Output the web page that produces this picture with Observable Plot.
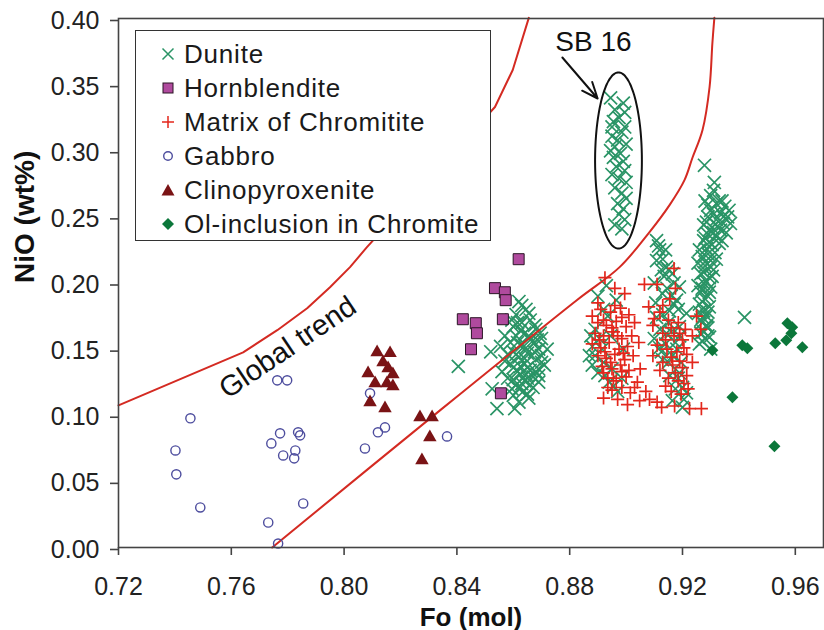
<!DOCTYPE html>
<html><head><meta charset="utf-8">
<script src="https://cdn.jsdelivr.net/npm/d3@7"></script>
<script src="https://cdn.jsdelivr.net/npm/@observablehq/plot@0.6"></script>
<style>
body{margin:0;background:#fff;overflow:hidden}
#wrap{position:relative;width:824px;height:630px;font-family:"Liberation Sans",Arial,sans-serif}
#legend{position:absolute;left:135px;top:30px;width:356px;height:211px;border:1.6px solid #333;background:#fff;padding-top:6px;box-sizing:border-box}
.row{height:34px;display:flex;align-items:center;font-size:26px;letter-spacing:0.8px;color:#1a1a1a}
.row svg{width:24px;height:24px;margin-left:20px;margin-right:4px;flex:none}
</style></head><body><div id="wrap"></div>
<script>
// ---------- data (Fo mol, NiO wt%) ----------
const xTicks = [0.72, 0.76, 0.80, 0.84, 0.88, 0.92, 0.96];
const yTicks = [0, 0.05, 0.10, 0.15, 0.20, 0.25, 0.30, 0.35, 0.40];
const seriesNames = ["Dunite","Hornblendite","Matrix of Chromitite","Gabbro","Clinopyroxenite","Ol-inclusion in Chromite"];

const dunite = [
 // SB 16
 [0.8945,0.340],[0.8990,0.336],[0.8960,0.331],[0.8995,0.329],[0.8975,0.325],[0.8955,0.322],[0.8995,0.318],[0.8985,0.314],[0.8950,0.311],[0.8970,0.308],[0.9000,0.305],[0.8960,0.303],[0.8945,0.300],[0.8980,0.298],[0.8955,0.295],[0.8990,0.292],[0.8965,0.288],[0.8995,0.285],[0.8950,0.282],[0.8975,0.279],[0.9000,0.276],[0.8960,0.272],[0.8985,0.268],[0.9000,0.264],[0.8970,0.260],[0.8990,0.256],[0.8975,0.252],[0.8995,0.248],[0.8960,0.244],[0.8985,0.241],[0.8950,0.318],
 // cluster near 0.86
 [0.8405,0.137],[0.8520,0.148],[0.8525,0.120],[0.8542,0.105],[0.8605,0.105],[0.8595,0.120],[0.8620,0.186],[0.8645,0.180],[0.8610,0.176],[0.8660,0.172],[0.8630,0.170],[0.8600,0.167],[0.8680,0.165],[0.8640,0.162],[0.8610,0.160],[0.8700,0.158],[0.8660,0.157],[0.8590,0.155],[0.8630,0.153],[0.8690,0.150],[0.8600,0.148],[0.8650,0.147],[0.8620,0.144],[0.8680,0.142],[0.8570,0.141],[0.8640,0.139],[0.8710,0.138],[0.8600,0.136],[0.8660,0.134],[0.8625,0.131],[0.8690,0.130],[0.8580,0.128],[0.8640,0.126],[0.8610,0.123],[0.8670,0.121],[0.8635,0.118],[0.8600,0.115],[0.8655,0.113],[0.8620,0.110],[0.8680,0.133],[0.8555,0.152],[0.8560,0.133],[0.8700,0.145],[0.8615,0.170],[0.8675,0.155],[0.8650,0.128],
 [0.8630,0.183],[0.8655,0.177],[0.8595,0.172],[0.8675,0.168],[0.8625,0.164],[0.8655,0.160],[0.8685,0.157],[0.8615,0.155],[0.8645,0.151],[0.8675,0.148],[0.8610,0.146],[0.8640,0.143],[0.8700,0.140],[0.8590,0.139],[0.8625,0.137],[0.8650,0.136],[0.8690,0.135],[0.8615,0.133],[0.8645,0.131],[0.8670,0.129],[0.8600,0.127],[0.8630,0.124],[0.8660,0.123],[0.8690,0.125],[0.8620,0.120],[0.8650,0.116],[0.8580,0.146],[0.8695,0.162],[0.8570,0.160],[0.8720,0.150],
 // cluster near 0.89
 [0.8930,0.198],[0.8965,0.187],[0.8920,0.180],[0.8890,0.165],[0.8880,0.152],[0.8890,0.145],[0.8920,0.140],[0.8950,0.135],[0.8900,0.132],[0.8940,0.125],[0.8970,0.118],[0.8905,0.158],[0.8945,0.160],[0.8990,0.150],[0.8985,0.128],
 [0.8900,0.190],[0.8935,0.175],[0.8875,0.160],[0.8915,0.150],[0.8870,0.145],[0.8925,0.130],[0.8955,0.122],[0.8880,0.138],
 // tongue near 0.91-0.92
 [0.9108,0.232],[0.9119,0.225],[0.9108,0.217],[0.9143,0.212],[0.9164,0.207],[0.9189,0.197],[0.9129,0.192],[0.9179,0.187],[0.9154,0.179],[0.9214,0.177],[0.9108,0.174],[0.9189,0.167],[0.9143,0.162],[0.9119,0.151],[0.9129,0.142],[0.9189,0.132],[0.9200,0.121],[0.9214,0.117],[0.9164,0.111],[0.9200,0.106],[0.9271,0.174],[0.9285,0.167],[0.9296,0.159],
 [0.9135,0.205],[0.9160,0.190],[0.9100,0.200],[0.9150,0.170],[0.9175,0.155],[0.9120,0.165],[0.9165,0.145],[0.9195,0.140],[0.9155,0.130],[0.9175,0.120],[0.9105,0.185],[0.9185,0.180],[0.9140,0.225],[0.9125,0.210],
 [0.9115,0.228],[0.9130,0.218],[0.9150,0.210],[0.9170,0.200],[0.9145,0.196],[0.9170,0.184],[0.9130,0.176],[0.9160,0.163],[0.9190,0.160],[0.9140,0.154],[0.9180,0.150],[0.9150,0.140],[0.9185,0.128],[0.9205,0.112],[0.9125,0.148],[0.9100,0.158],
 // vertical band near 0.93
 [0.9278,0.289],[0.9313,0.276],[0.9300,0.266],[0.9280,0.262],[0.9320,0.260],[0.9350,0.258],[0.9300,0.255],[0.9335,0.253],[0.9290,0.250],[0.9360,0.250],[0.9320,0.248],[0.9345,0.245],[0.9275,0.244],[0.9305,0.242],[0.9335,0.240],[0.9290,0.237],[0.9320,0.235],[0.9275,0.232],[0.9305,0.229],[0.9285,0.226],[0.9315,0.223],[0.9270,0.220],[0.9300,0.217],[0.9280,0.213],[0.9310,0.210],[0.9265,0.207],[0.9295,0.204],[0.9275,0.200],[0.9300,0.197],[0.9265,0.193],[0.9290,0.190],[0.9270,0.186],[0.9295,0.182],[0.9260,0.178],[0.9285,0.175],[0.9270,0.170],[0.9290,0.166],[0.9265,0.162],[0.9280,0.158],[0.9260,0.154],[0.9300,0.150],[0.9340,0.232],[0.9355,0.238],[0.9260,0.225],[0.9255,0.198],
 [0.9290,0.259],[0.9330,0.262],[0.9310,0.252],[0.9345,0.250],[0.9285,0.246],[0.9325,0.243],[0.9295,0.240],[0.9310,0.238],[0.9280,0.234],[0.9330,0.230],[0.9295,0.231],[0.9290,0.222],[0.9320,0.218],[0.9280,0.216],[0.9300,0.212],[0.9275,0.208],[0.9305,0.205],[0.9285,0.201],[0.9270,0.196],[0.9295,0.193],[0.9280,0.188],[0.9260,0.184],[0.9290,0.178],[0.9275,0.179],[0.9265,0.172],[0.9285,0.168],[0.9275,0.163],[0.9290,0.160],[0.9270,0.156],[0.9365,0.255],[0.9370,0.245],[0.9340,0.262],[0.9255,0.215],[0.9310,0.270],
 [0.9420,0.174]
];
const matrix = [
 [0.8925,0.204],[0.8960,0.196],[0.8995,0.192],[0.9065,0.199],[0.9110,0.199],[0.9170,0.211],[0.9175,0.196],[0.9155,0.188],[0.9130,0.183],
 [0.8880,0.175],[0.8910,0.180],[0.8945,0.178],[0.8980,0.181],[0.9010,0.176],[0.8900,0.170],[0.8930,0.168],[0.8965,0.171],[0.9000,0.167],[0.9030,0.170],[0.8890,0.162],[0.8920,0.160],[0.8955,0.163],[0.8985,0.158],[0.9020,0.160],[0.8880,0.154],[0.8910,0.151],[0.8940,0.155],[0.8975,0.150],[0.9005,0.152],[0.8900,0.145],[0.8930,0.143],[0.8960,0.146],[0.8995,0.142],[0.9025,0.145],[0.8915,0.137],[0.8950,0.135],[0.8980,0.138],[0.9010,0.134],[0.8935,0.128],[0.8965,0.126],[0.9000,0.129],[0.8950,0.119],[0.8985,0.121],[0.8920,0.113],[0.9015,0.117],[0.8970,0.112],[0.9045,0.155],[0.9050,0.135],[0.9040,0.125],[0.9070,0.118],
 [0.9080,0.182],[0.9120,0.178],[0.9150,0.172],[0.9185,0.170],[0.9210,0.165],[0.9095,0.168],[0.9130,0.162],[0.9170,0.160],[0.9200,0.157],[0.9235,0.160],[0.9110,0.153],[0.9145,0.150],[0.9180,0.148],[0.9215,0.146],[0.9095,0.145],[0.9130,0.140],[0.9165,0.138],[0.9200,0.136],[0.9235,0.140],[0.9150,0.128],[0.9185,0.126],[0.9215,0.130],[0.9160,0.118],[0.9195,0.116],[0.9220,0.120],[0.9250,0.175],[0.9265,0.165],
 [0.9005,0.108],[0.9048,0.111],[0.9083,0.112],[0.9126,0.106],[0.9172,0.107],[0.9225,0.105],[0.9267,0.105],[0.9030,0.121],[0.9110,0.110],
 [0.8900,0.185],[0.8960,0.183],[0.8920,0.172],[0.8985,0.174],[0.8950,0.166],[0.8905,0.157],[0.8970,0.160],[0.8925,0.148],[0.8990,0.147],[0.8945,0.140],[0.8920,0.132],[0.8985,0.133],[0.8955,0.128],[0.8935,0.121],[0.9100,0.173],[0.9160,0.166],[0.9190,0.162],[0.9140,0.157],[0.9205,0.151],[0.9160,0.144],[0.9190,0.141],[0.9120,0.134],[0.9175,0.132],[0.9205,0.124],[0.9140,0.122]
];
const gabbro = [
 [0.7402,0.0734],[0.7405,0.0553],[0.7455,0.0977],[0.7490,0.0303],[0.7731,0.0189],[0.7742,0.0787],[0.7763,0.1264],[0.7798,0.1264],[0.7766,0.0030],[0.7773,0.0863],[0.7837,0.0871],[0.7844,0.0848],[0.7784,0.0696],[0.7827,0.0734],[0.7823,0.0674],[0.7855,0.0333],[0.8074,0.0749],[0.8120,0.0871],[0.8145,0.0908],[0.8365,0.0840],[0.8092,0.1166]
];
const clino = [
 [0.8117,0.1476],[0.8163,0.1469],[0.8138,0.1400],[0.8085,0.1317],[0.8156,0.1355],[0.8173,0.1310],[0.8152,0.1241],[0.8173,0.1219],[0.8110,0.1241],[0.8092,0.1098],[0.8145,0.1052],[0.8269,0.0984],[0.8312,0.0984],[0.8304,0.0833],[0.8276,0.0659]
];
const hornblendite = [
 [0.8619,0.2180],[0.8535,0.1961],[0.8570,0.1930],[0.8573,0.1870],[0.8421,0.1726],[0.8467,0.1696],[0.8471,0.1620],[0.8563,0.1726],[0.8450,0.1499],[0.8556,0.1166]
];
const olInclusion = [
 [0.9306,0.1491],[0.9377,0.1136],[0.9412,0.1529],[0.9430,0.1506],[0.9526,0.0765],[0.9529,0.1544],[0.9572,0.1696],[0.9589,0.1665],[0.9568,0.1567],[0.9625,0.1514],[0.9586,0.1620]
];
// "Global trend" boundary curves
const trendUpper = [
 [0.72,0.1075],[0.7642,0.1476],[0.7763,0.1643],[0.7869,0.1809],[0.7950,0.1968],[0.8021,0.2120],[0.8081,0.2271],[0.8535,0.3331],[0.8598,0.3611],[0.8655,0.4005]
];
const trendLower = [
 [0.7745,0.0],[0.8340,0.1037],[0.8825,0.1870],[0.8977,0.2120],[0.9083,0.2385],[0.9154,0.2589],[0.9207,0.2778],[0.9235,0.2945],[0.9271,0.3157],[0.9296,0.3482],[0.9306,0.3815],[0.9313,0.4005]
];
// SB 16 annotation
const sb16Center = [0.8973, 0.2926];
const sb16Radii = [0.0083, 0.0666];
const sb16Arrow = [{x1:0.8774, y1:0.3705, x2:0.8899, y2:0.3395}];
const sb16Label = [{x:0.8884, y:0.3819, text:"SB 16"}];
const trendLabel = [{x:0.7800, y:0.1512, text:"Global trend"}];

// ---------- colours ----------
const C = {dunite:"#2a9466", horn:"#b04a9e", matrix:"#e3271c", gabbro:"#4d4d9e", clino:"#7a1315", ol:"#0b773a", trend:"#d42a22"};

const ellipse = d3.range(0, 361, 4).map(a => [sb16Center[0] + sb16Radii[0]*Math.cos(a*Math.PI/180), sb16Center[1] + sb16Radii[1]*Math.sin(a*Math.PI/180)]);
const fmt = d3.format(".2f");
const font = '"Liberation Sans", Arial, sans-serif';

const chart = Plot.plot({
  width: 824, height: 630,
  marginLeft: 118, marginRight: 1, marginTop: 18, marginBottom: 83,
  style: {fontFamily: font, fontSize: "25px", background: "white", color: "#222", overflow: "visible"},
  x: {domain: [0.72, 0.97]},
  y: {domain: [0, 0.40]},
  marks: [
    Plot.dot(dunite, {x: d => d[0], y: d => d[1], symbol: "times", r: 6, stroke: C.dunite, strokeWidth: 1.7}),
    Plot.dot(matrix, {x: d => d[0], y: d => d[1], symbol: "plus", r: 4.3, stroke: C.matrix, strokeWidth: 1.7}),
    Plot.line(trendUpper, {x: d => d[0], y: d => d[1], stroke: C.trend, strokeWidth: 2}),
    Plot.line(trendLower, {x: d => d[0], y: d => d[1], stroke: C.trend, strokeWidth: 2, curve: "catmull-rom"}),
    Plot.dot(gabbro, {x: d => d[0], y: d => d[1], symbol: "circle", r: 4.6, stroke: C.gabbro, strokeWidth: 1.4, fill: "none"}),
    Plot.dot(hornblendite, {x: d => d[0], y: d => d[1], symbol: "square", r: 6.2, fill: C.horn, stroke: "#2a1525", strokeWidth: 1}),
    Plot.dot(clino, {x: d => d[0], y: d => d[1], symbol: "triangle", r: 5, fill: C.clino, stroke: "none"}),
    Plot.dot(olInclusion, {x: d => d[0], y: d => d[1], symbol: "diamond2", r: 5.4, fill: C.ol, stroke: "none"}),
    Plot.line(ellipse, {x: d => d[0], y: d => d[1], stroke: "#111", strokeWidth: 2, curve: "catmull-rom"}),
    Plot.arrow(sb16Arrow, {x1: "x1", y1: "y1", x2: "x2", y2: "y2", stroke: "#111", strokeWidth: 2, headLength: 13, headAngle: 45}),
    Plot.text(sb16Label, {x: "x", y: "y", text: "text", fontSize: 28, fill: "#111"}),
    Plot.text(trendLabel, {x: "x", y: "y", text: "text", fontSize: 29, rotate: -34, fill: "#111"}),
    Plot.frame({stroke: "#444", strokeWidth: 1.6}),
    Plot.axisX({ticks: xTicks, tickFormat: fmt, tickSize: 8, tickPadding: 22, fontSize: 25, label: null, stroke: "#444", strokeWidth: 1.6, fill: "#222"}),
    Plot.axisY({ticks: yTicks, tickFormat: fmt, tickSize: 8, tickPadding: 11, fontSize: 25, label: null, stroke: "#444", strokeWidth: 1.6, fill: "#222", dy: 2}),
    Plot.text(["Fo (mol)"], {frameAnchor: "bottom", dy: 78, fontSize: 26, fontWeight: "bold", fill: "#111"}),
    Plot.text(["NiO (wt%)"], {frameAnchor: "left", dx: -93, rotate: -90, fontSize: 28, fontWeight: "bold", fill: "#111"})
  ]
});
const wrap = document.getElementById("wrap");
wrap.appendChild(chart);

// ---------- legend ----------
const legendSymbols = [
  `<svg viewBox="-12 -12 24 24"><path d="M-5.5,-5.5L5.5,5.5M-5.5,5.5L5.5,-5.5" stroke="${C.dunite}" stroke-width="1.5"/></svg>`,
  `<svg viewBox="-12 -12 24 24"><rect x="-5" y="-5" width="10" height="10" fill="${C.horn}" stroke="#2a1525" stroke-width="1"/></svg>`,
  `<svg viewBox="-12 -12 24 24"><path d="M-6,0L6,0M0,-6L0,6" stroke="${C.matrix}" stroke-width="1.5"/></svg>`,
  `<svg viewBox="-12 -12 24 24"><circle r="4.3" fill="none" stroke="${C.gabbro}" stroke-width="1.4"/></svg>`,
  `<svg viewBox="-12 -12 24 24"><path d="M0,-6L6.5,5.5L-6.5,5.5Z" fill="${C.clino}"/></svg>`,
  `<svg viewBox="-12 -12 24 24"><path d="M0,-6L6,0L0,6L-6,0Z" fill="${C.ol}"/></svg>`
];
const legend = document.createElement("div");
legend.id = "legend";
legend.innerHTML = seriesNames.map((n, i) => `<div class="row">${legendSymbols[i]}<span>${n}</span></div>`).join("");
wrap.appendChild(legend);
</script>
</body></html>
